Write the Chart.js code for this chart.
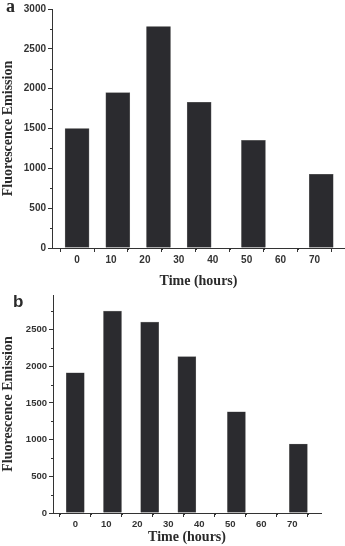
<!DOCTYPE html>
<html>
<head>
<meta charset="utf-8">
<script src="https://cdn.jsdelivr.net/npm/chart.js@4.4.1/dist/chart.umd.min.js"></script>
<style>
  body { margin: 0; background: #fff; width: 345px; height: 546px; position: relative; overflow: hidden; }
  .box { position: absolute; left: 0; width: 345px; }
  #boxA { top: 0; height: 290px; }
  #boxB { top: 284px; height: 262px; }
  .tag { position: absolute; font-weight: bold; color: #2a2a2a; }
  #tagA { left: 6px; top: -4px; font-family: "Liberation Serif", serif; font-size: 18px; }
  #tagB { left: 13px; top: 292px; font-family: "Liberation Sans", sans-serif; font-size: 17px; }
</style>
</head>
<body>
<div class="box" id="boxA"><canvas id="chartA"></canvas></div>
<div class="box" id="boxB"><canvas id="chartB"></canvas></div>
<div class="tag" id="tagA">a</div>
<div class="tag" id="tagB">b</div>
<script>
// time points (hours) where bars sit
var timesA = [0, 12, 24, 36, 52, 72];
var valuesA = [1500, 1950, 2780, 1830, 1350, 925];
var timesB = [0, 12, 24, 36, 52, 72];
var valuesB = [1910, 2750, 2600, 2130, 1380, 940];

var xTicks = [0, 10, 20, 30, 40, 50, 60, 70];
var yTicksA = [0, 500, 1000, 1500, 2000, 2500, 3000];
var yTicksB = [0, 500, 1000, 1500, 2000, 2500];

var axisColor = "#333";
var barColor = "#2b2b2f";

// short ticks half way between the labelled ones
var minorTicks = {
  id: "minorTicks",
  afterDraw: function (chart) {
    var ctx = chart.ctx;
    var xs = chart.scales.x, ys = chart.scales.y;
    ctx.save();
    ctx.strokeStyle = axisColor;
    ctx.lineWidth = 1;
    ctx.beginPath();
    for (var v = -5; v <= xs.max; v += 10) {
      if (v < xs.min) continue;
      var px = Math.round(xs.getPixelForValue(v)) + 0.5;
      ctx.moveTo(px, xs.top);
      ctx.lineTo(px, xs.top + 2);
    }
    for (var w = 250; w <= ys.max; w += 500) {
      var py = Math.round(ys.getPixelForValue(w)) + 0.5;
      ctx.moveTo(ys.right, py);
      ctx.lineTo(ys.right - 2, py);
    }
    ctx.stroke();
    ctx.restore();
  }
};

function plain(v) { return String(v); }

function makeChart(id, times, values, yTicks, opts) {
  var ctx = document.getElementById(id).getContext("2d");
  return new Chart(ctx, {
    type: "bar",
    data: {
      datasets: [{
        data: times.map(function (t, i) { return { x: t, y: values[i] }; }),
        backgroundColor: barColor,
        borderColor: "#6a6a6a",
        borderWidth: 0.6,
        barThickness: opts.barThickness
      }]
    },
    options: {
      responsive: true,
      maintainAspectRatio: false,
      animation: false,
      layout: { padding: { top: opts.padTop, right: opts.padRight, left: 0, bottom: 0 } },
      plugins: { legend: { display: false }, tooltip: { enabled: false } },
      scales: {
        x: {
          type: "linear",
          offset: false,
          min: opts.xMin,
          max: opts.xMax,
          afterBuildTicks: function (scale) {
            scale.ticks = xTicks.map(function (v) { return { value: v }; });
          },
          afterFit: function (scale) { scale.height = opts.xHeight; },
          grid: { drawOnChartArea: false, color: axisColor, tickLength: 4 },
          border: { color: axisColor, width: 1 },
          ticks: {
            color: "#333",
            padding: 2,
            maxRotation: 0,
            callback: plain,
            font: { family: "Liberation Sans", weight: "bold", size: opts.tickSize }
          },
          title: {
            display: true,
            text: "Time (hours)",
            color: "#2a2a2a",
            padding: { top: 2, bottom: 0 },
            font: { family: "Liberation Serif", weight: "bold", size: 14 }
          }
        },
        y: {
          min: 0,
          max: opts.yMax,
          afterBuildTicks: function (scale) {
            scale.ticks = yTicks.map(function (v) { return { value: v }; });
          },
          afterFit: function (scale) { scale.width = opts.yWidth; },
          grid: { drawOnChartArea: false, color: axisColor, tickLength: 4 },
          border: { color: axisColor, width: 1 },
          ticks: {
            color: "#333",
            padding: 2,
            callback: plain,
            font: { family: "Liberation Sans", weight: "bold", size: opts.tickSize }
          },
          title: {
            display: true,
            text: "Fluorescence Emission",
            color: "#2a2a2a",
            padding: { top: 0, bottom: 4 },
            font: { family: "Liberation Serif", weight: "bold", size: 14 }
          }
        }
      }
    },
    plugins: [minorTicks]
  });
}

makeChart("chartA", timesA, valuesA, yTicksA, {
  barThickness: 24, xMin: -7.4, xMax: 79, yMax: 3000,
  padTop: 9, padRight: 0, xHeight: 42, yWidth: 52, tickSize: 10
});
makeChart("chartB", timesB, valuesB, yTicksB, {
  barThickness: 18, xMin: -7.2, xMax: 79.3, yMax: 2970,
  padTop: 11, padRight: 24, xHeight: 33, yWidth: 53, tickSize: 9.5
});
</script>
</body>
</html>
